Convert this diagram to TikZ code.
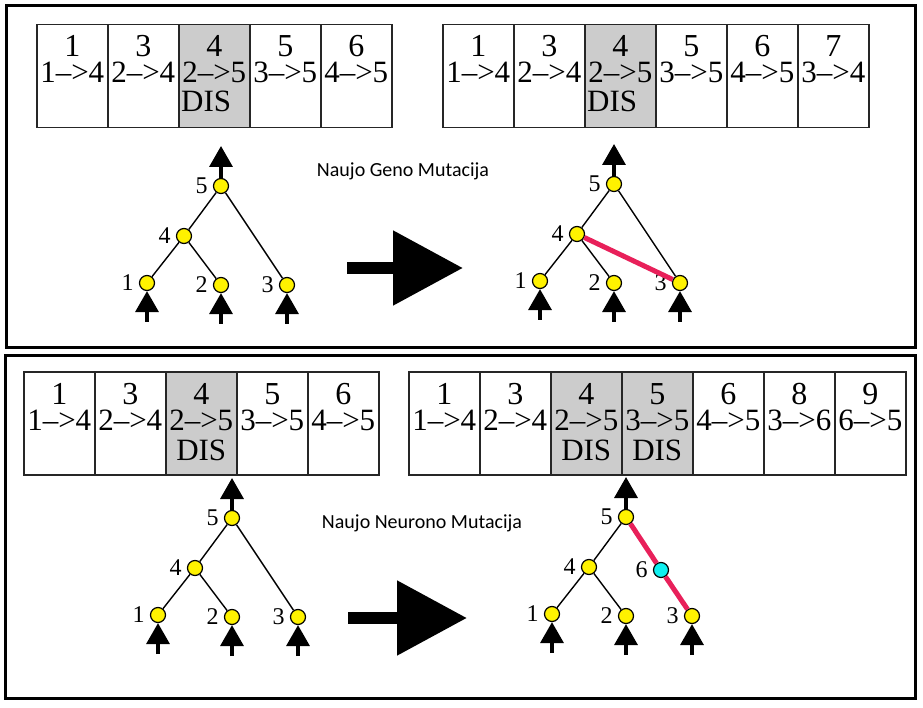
\documentclass[tikz,border=0pt]{standalone}
\usepackage{fontspec}
\setmainfont{Liberation Serif}
\newfontfamily\capfont{Carlito}
\usetikzlibrary{positioning,arrows.meta}

\definecolor{linkred}{HTML}{E8205A}
\definecolor{newcyan}{HTML}{10F0F0}

\begin{document}
\begin{tikzpicture}[x=1pt, y=-1pt, on grid,
    cell/.style={draw=black!85, line width=1.5pt, minimum width=71pt, minimum height=103pt, inner sep=0pt, anchor=north west},
    gene/.style={font=\fontsize{31}{31}\selectfont, inner sep=0pt, anchor=base},
    genenum/.style={gene, font=\fontsize{32}{32}\selectfont},
    neuron/.style={circle, draw, fill=yellow, line width=1.2pt, minimum size=15pt, inner sep=0pt},
    every label/.style={font=\fontsize{24}{24}\selectfont, inner sep=0pt},
    label distance=5pt,
    edge/.style={line width=1.4pt},
    newlink/.style={line width=5pt, linkred},
    io/.style={line width=3.5pt, -{Triangle[length=21pt, width=23pt]}},
    fat/.style={line width=12pt, -{Triangle[length=70pt, width=72pt]}},
    panel/.style={line width=3pt},
    caption/.style={font=\capfont\fontsize{20}{20}\selectfont, inner sep=0pt, anchor=base}]
    \useasboundingbox (0,0) rectangle (923,708);

    % Remeliai
    \draw[panel] (6,5.5) rectangle (915.5,347);
    \draw[panel] (5.5,355) rectangle (915.5,698.5);

    % Genai - virsuje kaireje
    \foreach \n/\a/\b/\f [count=\i] in {1/1/4/white, 3/2/4/white, 4/2/5/black!20, 5/3/5/white, 6/4/5/white} {
        \node[cell, fill=\f] (ga\i) at ({36+71*(\i-1)}, 24) {};
        \node[genenum] (ga\i-num) at ([yshift=-33pt]ga\i.north) {\n};
        \node[gene] (ga\i-con) at ([yshift=-59pt]ga\i.north) {\a\textendash>\b};
    }
    \node[gene, anchor=base west] (ga3-dis) at ([shift={(3pt,-88pt)}]ga3.north west) {DIS};

    % Genai - virsuje desineje
    \foreach \n/\a/\b/\f [count=\i] in {1/1/4/white, 3/2/4/white, 4/2/5/black!20, 5/3/5/white, 6/4/5/white, 7/3/4/white} {
        \node[cell, fill=\f] (gb\i) at ({442+71*(\i-1)}, 24) {};
        \node[genenum] (gb\i-num) at ([yshift=-33pt]gb\i.north) {\n};
        \node[gene] (gb\i-con) at ([yshift=-59pt]gb\i.north) {\a\textendash>\b};
    }
    \node[gene, anchor=base west] (gb3-dis) at ([shift={(3pt,-88pt)}]gb3.north west) {DIS};

    % Genai - apacioje kaireje
    \foreach \n/\a/\b/\f [count=\i] in {1/1/4/white, 3/2/4/white, 4/2/5/black!20, 5/3/5/white, 6/4/5/white} {
        \node[cell, fill=\f] (gc\i) at ({23+71*(\i-1)}, 371) {};
        \node[genenum] (gc\i-num) at ([yshift=-33pt]gc\i.north) {\n};
        \node[gene] (gc\i-con) at ([yshift=-59pt]gc\i.north) {\a\textendash>\b};
    }
    \node[gene] (gc3-dis) at ([yshift=-89pt]gc3.north) {DIS};

    % Genai - apacioje desineje
    \foreach \n/\a/\b/\f [count=\i] in {1/1/4/white, 3/2/4/white, 4/2/5/black!20, 5/3/5/black!20, 6/4/5/white, 8/3/6/white, 9/6/5/white} {
        \node[cell, fill=\f] (gd\i) at ({408+71*(\i-1)}, 371) {};
        \node[genenum] (gd\i-num) at ([yshift=-33pt]gd\i.north) {\n};
        \node[gene] (gd\i-con) at ([yshift=-59pt]gd\i.north) {\a\textendash>\b};
    }
    \node[gene] (gd3-dis) at ([yshift=-89pt]gd3.north) {DIS};
    \node[gene] (gd4-dis) at ([yshift=-89pt]gd4.north) {DIS};

    % Tinklai
    \foreach \t/\x/\y in {ta/221/186, tb/614/184, tc/232/518, td/626/517} {
        \node[neuron, label=left:5] (\t5) at (\x,\y) {};
        \node[neuron, label=left:4, below left=50pt and 37pt of \t5] (\t4) {};
        \node[neuron, label=left:1, below left=47pt and 37pt of \t4] (\t1) {};
        \node[neuron, label=left:2, below right=49pt and 37pt of \t4] (\t2) {};
        \node[neuron, label=left:3, below right=99pt and 66pt of \t5] (\t3) {};
        \coordinate[above=40pt of \t5] (\t-out);
        \draw[io] (\t5) -- (\t-out);
        \foreach \k in {1,2,3} {
            \coordinate[below=39pt of \t\k] (\t\k-in);
            \draw[io] (\t\k-in) -- (\t\k);
        }
        \draw[edge] (\t5) -- (\t4) (\t4) -- (\t1) (\t4) -- (\t2);
    }
    \draw[edge] (ta5) -- (ta3) (tb5) -- (tb3) (tc5) -- (tc3);

    % Mutacijos
    \draw[newlink] (tb4) -- (tb3);
    \node[neuron, fill=newcyan, label=left:6, below right=53pt and 35pt of td5] (td6) {};
    \draw[newlink] (td5) -- (td6) (td6) -- (td3);

    % Rodykles
    \coordinate (fa-from) at (347,268);
    \coordinate (fa-to) at (463,268);
    \draw[fat] (fa-from) -- (fa-to);
    \coordinate (fb-from) at (348,618);
    \coordinate (fb-to) at (467,618);
    \draw[fat] (fb-from) -- (fb-to);

    \node[caption] (capGene) at (403,177) {Naujo Geno Mutacija};
    \node[caption] (capNeuron) at (422,528) {Naujo Neurono Mutacija};
\end{tikzpicture}
\end{document}
